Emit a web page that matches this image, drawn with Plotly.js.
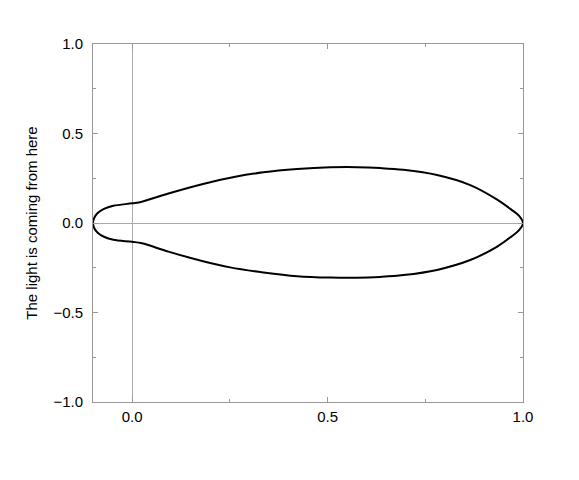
<!DOCTYPE html>
<html>
<head>
<meta charset="utf-8">
<script src="https://cdn.plot.ly/plotly-3.0.1.min.js"></script>
<style>html,body{margin:0;padding:0;background:#fff;}</style>
</head>
<body>
<div id="chart" style="width:579px;height:480px;"></div>
<script>
// Upper half of the curve (left to right)
const xTop = [-0.100, -0.097, -0.088, -0.072, -0.048, 0.000, 0.025, 0.093, 0.179, 0.264, 0.336, 0.422, 0.507, 0.575, 0.635, 0.694, 0.780, 0.865, 0.933, 0.970, 0.990, 1.000];
const yTop = [0.000, 0.028, 0.056, 0.079, 0.096, 0.110, 0.119, 0.165, 0.217, 0.258, 0.283, 0.301, 0.311, 0.312, 0.307, 0.297, 0.268, 0.212, 0.132, 0.075, 0.040, 0.000];
// Lower half of the curve (right to left)
const xBottom = [0.990, 0.970, 0.933, 0.865, 0.780, 0.694, 0.635, 0.575, 0.507, 0.422, 0.336, 0.251, 0.179, 0.093, 0.025, 0.000, -0.048, -0.072, -0.088, -0.097, -0.100];
const yBottom = [-0.040, -0.076, -0.133, -0.207, -0.262, -0.291, -0.301, -0.306, -0.305, -0.297, -0.276, -0.248, -0.212, -0.160, -0.113, -0.105, -0.094, -0.077, -0.055, -0.028, 0.000];

const yLabel = "The light is coming from here";
const xTickVals = [0, 0.5, 1];
const xTickText = ["0.0", "0.5", "1.0"];
const yTickVals = [-1, -0.5, 0, 0.5, 1];
const yTickText = ["\u22121.0", "\u22120.5", "0.0", "0.5", "1.0"];

const xs = xTop.concat(xBottom);
const ys = yTop.concat(yBottom);

const font = {family: "Liberation Sans, Arial, sans-serif", size: 15, color: "#000"};

Plotly.newPlot("chart", [{
  x: xs, y: ys, type: "scatter", mode: "lines",
  line: {color: "#000", width: 2, shape: "spline", smoothing: 1},
  hoverinfo: "skip", showlegend: false
}], {
  width: 579, height: 480,
  margin: {l: 93, r: 56, t: 44, b: 78, pad: 0},
  paper_bgcolor: "#fff", plot_bgcolor: "#fff",
  font: font,
  xaxis: {
    range: [-0.1, 1.0], autorange: false,
    tickvals: xTickVals, ticktext: xTickText,
    showgrid: false, zeroline: true, zerolinecolor: "#aaa", zerolinewidth: 1,
    showline: true, linecolor: "#999", linewidth: 1, mirror: "ticks",
    ticks: "inside", ticklen: 5, tickcolor: "#999", tickwidth: 1,
    minor: {dtick: 0.25, tick0: 0, ticks: "inside", ticklen: 3, tickcolor: "#999", showgrid: false},
    tickfont: font, ticklabelstandoff: 1
  },
  yaxis: {
    range: [-1, 1], autorange: false,
    tickvals: yTickVals, ticktext: yTickText,
    showgrid: false, zeroline: true, zerolinecolor: "#aaa", zerolinewidth: 1,
    showline: true, linecolor: "#999", linewidth: 1, mirror: "ticks",
    ticks: "inside", ticklen: 5, tickcolor: "#999", tickwidth: 1,
    minor: {dtick: 0.25, tick0: 0, ticks: "inside", ticklen: 3, tickcolor: "#999", showgrid: false},
    tickfont: font, ticklabelstandoff: 6,
    title: {text: yLabel, font: font, standoff: 12}
  }
}, {displayModeBar: false, staticPlot: true});
</script>
</body>
</html>
